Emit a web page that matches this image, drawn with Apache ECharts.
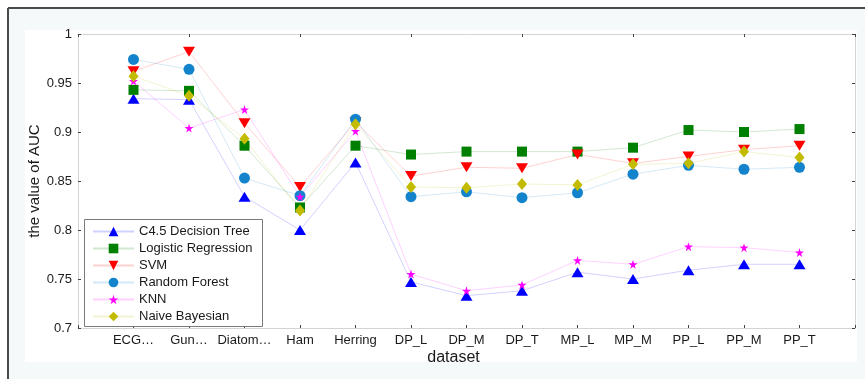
<!DOCTYPE html>
<html>
<head>
<meta charset="utf-8">
<script src="https://cdn.jsdelivr.net/npm/echarts@6/dist/echarts.min.js"></script>
<style>
  html, body { margin: 0; padding: 0; background: #ffffff; }
  #chart { width: 865px; height: 379px; }
</style>
</head>
<body>
<div id="chart"></div>
<script>
// Datasets along the x axis (blank slots pad both ends of the axis)
const datasets = ['ECG…', 'Gun…', 'Diatom…', 'Ham', 'Herring', 'DP_L', 'DP_M', 'DP_T', 'MP_L', 'MP_M', 'PP_L', 'PP_M', 'PP_T'];
const yTicks = [0.7, 0.75, 0.8, 0.85, 0.9, 0.95, 1];

// AUC per classifier
const c45  = [0.934, 0.933, 0.834, 0.800, 0.869, 0.747, 0.733, 0.738, 0.757, 0.750, 0.759, 0.765, 0.765];
const lr   = [0.943, 0.942, 0.886, 0.823, 0.886, 0.877, 0.880, 0.880, 0.880, 0.884, 0.902, 0.900, 0.903];
const svm  = [0.962, 0.982, 0.909, 0.844, 0.910, 0.855, 0.864, 0.863, 0.877, 0.868, 0.875, 0.882, 0.886];
const rf   = [0.974, 0.964, 0.853, 0.835, 0.913, 0.834, 0.839, 0.833, 0.838, 0.857, 0.866, 0.862, 0.864];
const knn  = [0.952, 0.904, 0.923, 0.834, 0.901, 0.755, 0.738, 0.744, 0.769, 0.765, 0.783, 0.782, 0.777];
const nb   = [0.957, 0.937, 0.893, 0.820, 0.908, 0.844, 0.843, 0.847, 0.846, 0.867, 0.868, 0.880, 0.874];

const categories = [''].concat(datasets, ['']);
const pad = arr => [null].concat(arr, [null]);

const star = 'path://M50,0 L61,35 L98,35 L68,57 L79,91 L50,70 L21,91 L32,57 L2,35 L39,35 Z';

function mk(name, data, color, symbol, size, extra) {
  return Object.assign({
    name: name,
    type: 'line',
    data: pad(data),
    symbol: symbol,
    symbolSize: size,
    itemStyle: { color: color },
    lineStyle: { width: 1, color: color, opacity: 0.18 },
    emphasis: { disabled: true },
    animation: false
  }, extra || {});
}

const chart = echarts.init(document.getElementById('chart'));
const font = 'Liberation Sans, Arial, sans-serif';

chart.setOption({
  backgroundColor: '#ffffff',
  animation: false,
  graphic: [
    { type: 'rect', z: -10, silent: true, shape: { x: 8, y: 8, width: 857, height: 371 }, style: { fill: '#f6f9f9' } },
    { type: 'rect', z: -9, silent: true, shape: { x: 25, y: 30, width: 832, height: 332 }, style: { fill: '#ffffff' } },
    { type: 'line', z: -8, silent: true, shape: { x1: 8, y1: 8, x2: 865, y2: 8 }, style: { stroke: '#4a4a4a', lineWidth: 2 } },
    { type: 'line', z: -8, silent: true, shape: { x1: 8, y1: 8, x2: 8, y2: 379 }, style: { stroke: '#4a4a4a', lineWidth: 2 } },
    { type: 'rect', z: 3, silent: true, shape: { x: 84.5, y: 219.5, width: 178, height: 107 }, style: { fill: '#ffffff', stroke: '#7a7a7a', lineWidth: 1 } }
  ],
  grid: { left: 78, right: 10, top: 34, bottom: 51, containLabel: false },
  legend: {
    orient: 'vertical',
    left: 92,
    top: 225,
    padding: 0,
    itemGap: 4,
    itemWidth: 41,
    itemHeight: 12,
    z: 5,
    textStyle: { fontFamily: font, fontSize: 13, color: '#1a1a1a' },
    data: ['C4.5 Decision Tree', 'Logistic Regression', 'SVM', 'Random Forest', 'KNN', 'Naive Bayesian']
  },
  xAxis: [
    {
      type: 'category',
      data: categories,
      boundaryGap: false,
      position: 'bottom',
      name: 'dataset',
      nameLocation: 'middle',
      nameGap: 22,
      nameMoveOverlap: false,
      nameTextStyle: { fontFamily: font, fontSize: 16, color: '#1a1a1a', padding: [0, 26, 0, 0] },
      axisLine: { lineStyle: { color: '#d4d4d4', width: 1 } },
      axisTick: { inside: true, length: 3, alignWithLabel: true, lineStyle: { color: '#444' } },
      axisLabel: { fontFamily: font, fontSize: 13, color: '#1a1a1a', margin: 6, interval: 0 },
      splitLine: { show: false }
    },
    {
      type: 'category',
      data: categories,
      boundaryGap: false,
      position: 'top',
      axisLine: { lineStyle: { color: '#d4d4d4', width: 1 } },
      axisTick: { inside: true, length: 3, lineStyle: { color: '#444' } },
      axisLabel: { show: false },
      splitLine: { show: false }
    }
  ],
  yAxis: [
    {
      type: 'value',
      min: 0.7,
      max: 1,
      interval: 0.05,
      position: 'left',
      name: 'the value of AUC',
      nameLocation: 'middle',
      nameGap: 36,
      nameMoveOverlap: false,
      nameTextStyle: { fontFamily: font, fontSize: 15, color: '#1a1a1a' },
      axisLine: { show: true, lineStyle: { color: '#d4d4d4', width: 1 } },
      axisTick: { show: true, inside: true, length: 3, lineStyle: { color: '#444' } },
      axisLabel: {
        fontFamily: font, fontSize: 13, color: '#1a1a1a', margin: 6,
        formatter: v => {
          const t = yTicks.find(k => Math.abs(k - v) < 1e-6);
          return t === undefined ? '' : String(t);
        }
      },
      splitLine: { show: false }
    },
    {
      type: 'value',
      min: 0.7,
      max: 1,
      interval: 0.05,
      position: 'right',
      axisLine: { show: true, lineStyle: { color: '#d4d4d4', width: 1 } },
      axisTick: { show: true, inside: true, length: 3, lineStyle: { color: '#444' } },
      axisLabel: { show: false },
      splitLine: { show: false }
    }
  ],
  series: [
    mk('C4.5 Decision Tree', c45, '#0000ff', 'triangle', [12, 10]),
    mk('Logistic Regression', lr, '#008000', 'rect', 10),
    mk('SVM', svm, '#ff0000', 'triangle', [12, 10], { symbolRotate: 180 }),
    mk('Random Forest', rf, '#1384cc', 'circle', 11),
    mk('KNN', knn, '#ff00ff', star, 9),
    mk('Naive Bayesian', nb, '#c2bb00', 'diamond', [10, 12])
  ]
});
</script>
</body>
</html>
